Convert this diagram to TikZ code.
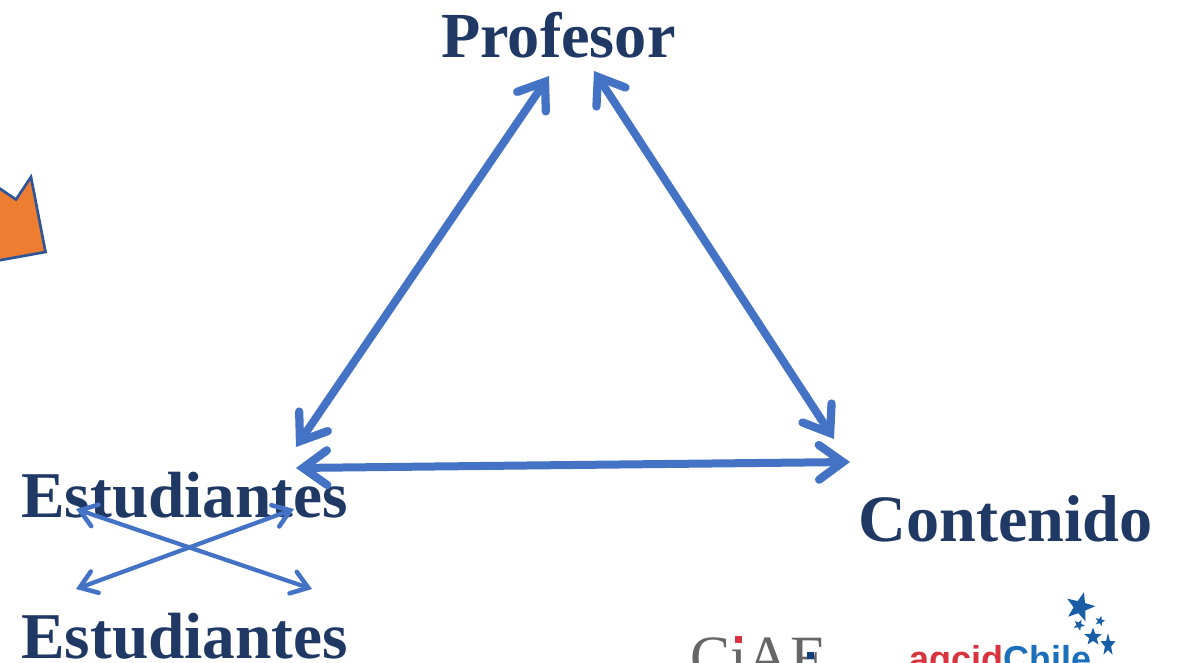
\documentclass[tikz,border=0pt]{standalone}
\usepackage{fontspec}
\setmainfont{Liberation Serif}
\newfontfamily\logosans{Liberation Sans}
\usetikzlibrary{arrows.meta,shapes.geometric}
\definecolor{navy}{HTML}{1F3864}
\definecolor{arrowblue}{HTML}{4472C4}
\definecolor{fillorange}{HTML}{ED7D31}
\definecolor{edgeblue}{HTML}{2F5597}
\definecolor{logogrey}{HTML}{666666}
\definecolor{logored}{HTML}{D9333F}
\definecolor{logoblue}{HTML}{1B6FBB}
\definecolor{stardark}{HTML}{1A5EA8}
\definecolor{squareblue}{HTML}{123F7A}
\tikzset{
  title/.style={anchor=base west,inner sep=0pt,text=navy,font=\fontsize{#1}{#1}\selectfont\bfseries},
  title/.default=49,
  bigbarb/.tip={Straight Barb[length=18pt,width=26pt,line width=6.2pt,line cap=round,line join=miter]},
  smallbarb/.tip={Straight Barb[length=12pt,width=17pt,line width=3.4pt,line cap=round,line join=miter]},
  bigarrow/.style={draw=arrowblue,line width=6pt,{bigbarb}-{bigbarb}},
  smallarrow/.style={draw=arrowblue,line width=3.2pt,{smallbarb}-{smallbarb}},
  skystar/.style={star,star points=5,star point ratio=2.4,fill=stardark,inner sep=0pt}
}
\begin{document}
\begin{tikzpicture}[x=0.75pt,y=-0.75pt]
\useasboundingbox (0,0) rectangle (1181,663);
\clip (0,0) rectangle (1181,663);
\fill[white] (0,0) rectangle (1181,663);
\draw[fill=fillorange,draw=edgeblue,line width=2pt,line join=miter] (-10,182) -- (16,199.5) -- (31,177) -- (45.5,252) -- (-10,262) -- cycle;
\node[title=48.2] (prof) at (441,58) {Profesor};
\node[title] (est1) at (21,517) {Estudiantes};
\node[title] (est2) at (21,658) {Estudiantes};
\node[title=49.7] (cont) at (858,541) {Contenido};
\coordinate (ptl) at (549,76);
\coordinate (pbl) at (296,447);
\coordinate (ptr) at (594,71);
\coordinate (pbr) at (834,439);
\coordinate (bl) at (296,468);
\coordinate (br) at (850,462);
\coordinate (s1) at (76,509);
\coordinate (s2) at (312,589);
\coordinate (s3) at (294,509);
\coordinate (s4) at (76,589);
\draw[bigarrow] (ptl) -- (pbl);
\draw[bigarrow] (ptr) -- (pbr);
\draw[bigarrow] (bl) -- (br);
\draw[smallarrow] (s1) -- (s2);
\draw[smallarrow] (s3) -- (s4);
% CIAF logo
\node[anchor=base west,inner sep=0pt,text=logogrey,font=\fontsize{45}{45}\selectfont] (ciaf) at (690,677) {CıAF};
\fill[logored] (734.5,636) rectangle (741.5,643);
\fill[squareblue] (807,652) rectangle (814,659);
% AGCI logo
\node[anchor=base west,inner sep=0pt,font=\logosans\fontsize{27}{27}\selectfont\bfseries] (agcid) at (909,671) {\textcolor{logored}{agcid}\textcolor{logoblue}{Chile}};
\node[skystar,minimum size=23pt,rotate=-15] (st1) at (1080,607) {};
\node[skystar,minimum size=8pt,rotate=-15] (st2) at (1100,621) {};
\node[skystar,minimum size=9pt,rotate=-25] (st3) at (1079,625) {};
\node[skystar,minimum size=14pt] (st4) at (1093,637) {};
\node[skystar,minimum size=18pt,xscale=0.65] (st5) at (1108,645) {};
\end{tikzpicture}
\end{document}
